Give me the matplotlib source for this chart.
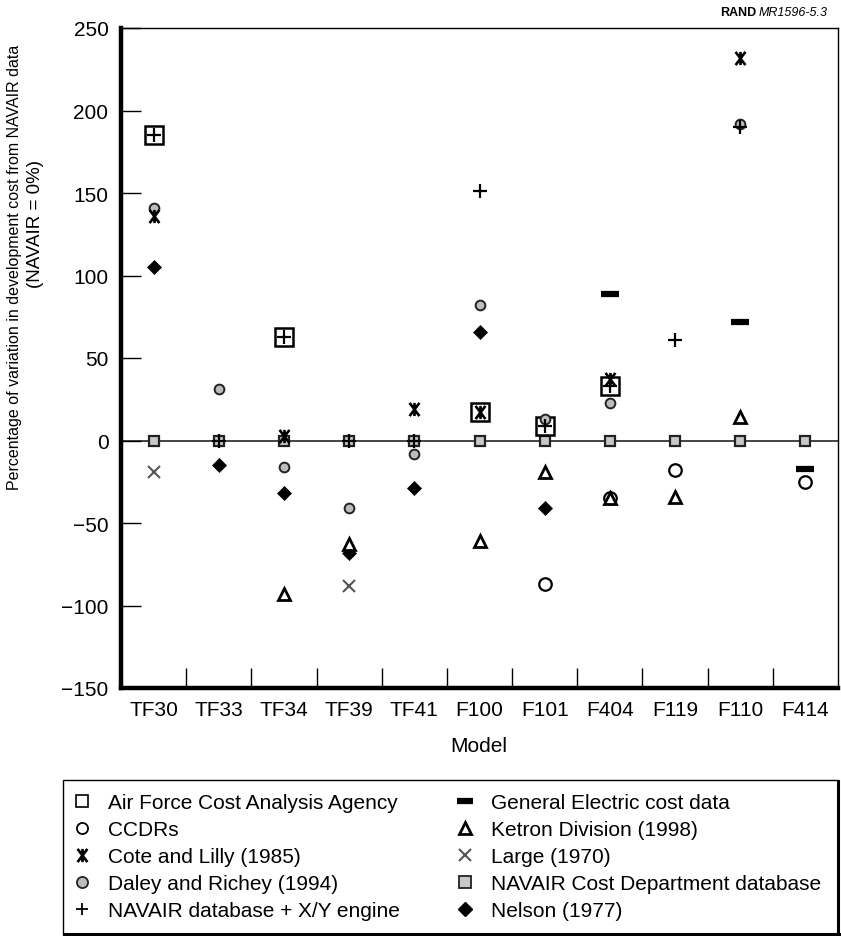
import numpy as np
import matplotlib
matplotlib.use("Agg")
import matplotlib.pyplot as plt
from matplotlib.lines import Line2D
from matplotlib.patches import Rectangle
from matplotlib.path import Path

plt.rcParams['font.family'] = ['Liberation Sans', 'DejaVu Sans']

nan = np.nan
models = ["TF30", "TF33", "TF34", "TF39", "TF41", "F100", "F101", "F404", "F119", "F110", "F414"]
afcaa      = [185, nan, 63, nan, nan, 17, 9, 33, nan, nan, nan]
ccdr       = [nan, nan, nan, nan, nan, nan, -87, -35, -18, nan, -25]
cote       = [136, nan, 3, nan, 19, 17, nan, 37, nan, 232, nan]
daley      = [141, 31, -16, -41, -8, 82, 13, 23, nan, 192, nan]
navair_xy  = [185, 0, 63, 0, 0, 151, 9, 33, 61, 190, nan]
ge         = [nan, nan, nan, nan, nan, nan, nan, 89, nan, 72, -17]
ketron     = [nan, nan, -93, -63, nan, -61, -19, -35, -34, 14, nan]
large      = [-19, nan, nan, -88, nan, nan, nan, nan, nan, nan, nan]
navair_cost = [0, 0, 0, 0, 0, 0, 0, 0, 0, 0, 0]
nelson     = [105, -15, -32, -68, -29, 66, -41, nan, nan, nan, nan]

labels = ["Air Force Cost Analysis Agency", "CCDRs", "Cote and Lilly (1985)",
          "Daley and Richey (1994)", "NAVAIR database + X/Y engine",
          "General Electric cost data", "Ketron Division (1998)", "Large (1970)",
          "NAVAIR Cost Department database", "Nelson (1977)"]

W, H = 841, 937
fig = plt.figure(figsize=(W / 100, H / 100), dpi=100)
ax = fig.add_axes([121 / W, 1 - 689 / H, (838 - 121) / W, (689 - 29) / H])

x = np.arange(len(models))
ax.axhline(0, color='#444444', lw=1.4, zorder=1)

# X with a vertical bar (Cote and Lilly symbol)
ASTER = Path([(-0.75, -1), (0.75, 1), (-0.75, 1), (0.75, -1), (0, -1), (0, 1)],
             [Path.MOVETO, Path.LINETO, Path.MOVETO, Path.LINETO, Path.MOVETO, Path.LINETO])

styles = {
    'navair_cost': dict(marker='s', ms=7.5, mfc='#c8c8c8', mec='#222222', mew=1.6),
    'afcaa': dict(marker='s', ms=12.5, mfc='white', mec='black', mew=1.8),
    'ccdr': dict(marker='o', ms=9, mfc='white', mec='black', mew=1.6),
    'daley': dict(marker='o', ms=7, mfc='#bdbdbd', mec='#222222', mew=1.4),
    'nelson': dict(marker='D', ms=7.5, mfc='black', mec='black', mew=0.5),
    'ketron': dict(marker='^', ms=8, mfc='white', mec='black', mew=2.0),
    'large': dict(marker='x', ms=9, mfc='none', mec='#555555', mew=1.5),
    'ge': dict(marker='_', ms=13, mec='black', mew=4.5),
    'cote': dict(marker=ASTER, ms=9.5, mfc='none', mec='black', mew=1.9),
    'navair_xy': dict(marker='+', ms=9.5, mec='black', mew=1.6),
}
series = [('navair_cost', navair_cost), ('afcaa', afcaa), ('ccdr', ccdr), ('daley', daley),
          ('nelson', nelson), ('ketron', ketron), ('large', large), ('ge', ge),
          ('cote', cote), ('navair_xy', navair_xy)]
for i, (k, vals) in enumerate(series):
    ax.plot(x, vals, linestyle='none', zorder=3 + i, **styles[k])

ax.set_xlim(-0.5, len(models) - 0.5)
ax.set_ylim(-150, 250)
ax.set_yticks(np.arange(-150, 251, 50))
ax.set_xticks(x)
ax.set_xticklabels(models)
ax.set_xticks(np.arange(0.5, len(models) - 1, 1), minor=True)
ax.tick_params(axis='x', which='major', length=0, pad=9, labelsize=15)
ax.tick_params(axis='x', which='minor', direction='in', length=14.5, width=1.0)
ax.tick_params(axis='y', which='major', direction='in', length=14.5, width=1.0, pad=9, labelsize=15)
for s in ['left', 'bottom']:
    ax.spines[s].set_linewidth(3.2)
for s in ['top', 'right']:
    ax.spines[s].set_linewidth(1.0)

fig.text(479 / W, 1 - 747 / H, "Model", ha='center', va='center', fontsize=15)
fig.text(15 / W, 1 - 267 / H, "Percentage of variation in development cost from NAVAIR data",
         rotation=90, ha='center', va='center', fontsize=11.5)
fig.text(36 / W, 1 - 224 / H, "(NAVAIR = 0%)", rotation=90, ha='center', va='center', fontsize=13.5)

renderer = fig.canvas.get_renderer()
t1 = fig.text(828 / W, 1 - 13 / H, "MR1596-5.3", ha='right', va='center', fontsize=9, style='italic')
bb = t1.get_window_extent(renderer=renderer)
fig.text((bb.x0 - 3) / W, 1 - 13 / H, "RAND", ha='right', va='center', fontsize=9, weight='bold')

# legend
leg_styles = {
    'afcaa': dict(marker='s', ms=9, mfc='white', mec='black', mew=1.2),
    'ccdr': dict(marker='o', ms=8, mfc='white', mec='black', mew=1.3),
    'cote': dict(marker=ASTER, ms=9.5, mfc='none', mec='black', mew=1.9),
    'daley': dict(marker='o', ms=8, mfc='#bdbdbd', mec='#222222', mew=1.3),
    'navair_xy': dict(marker='+', ms=9, mec='black', mew=1.3),
    'ge': dict(marker='_', ms=11, mec='black', mew=4.5),
    'ketron': dict(marker='^', ms=8, mfc='white', mec='black', mew=2.0),
    'large': dict(marker='x', ms=9, mec='#555555', mew=1.5),
    'navair_cost': dict(marker='s', ms=9, mfc='#c8c8c8', mec='#222222', mew=1.3),
    'nelson': dict(marker='D', ms=7.5, mfc='black', mec='black'),
}
order = ['afcaa', 'ccdr', 'cote', 'daley', 'navair_xy', 'ge', 'ketron', 'large', 'navair_cost', 'nelson']
handles = [Line2D([], [], linestyle='none', **leg_styles[k]) for k in order]
fig.legend(handles, labels, ncol=2, loc='upper left', bbox_to_anchor=(72 / W, 1 - 794 / H),
           frameon=False, fontsize=15, handlelength=1.0, handletextpad=0.75,
           columnspacing=2.6, labelspacing=0.39, borderpad=0, borderaxespad=0)

fig.add_artist(Rectangle((63 / W, 1 - 935 / H), (838 - 63) / W, (935 - 781) / H,
                         transform=fig.transFigure, fill=False, ec='black', lw=1.0))
fig.add_artist(Line2D([838 / W, 838 / W], [1 - 936 / H, 1 - 782 / H], transform=fig.transFigure,
                      color='black', lw=2.2))
fig.add_artist(Line2D([64 / W, 839 / W], [1 - 935 / H, 1 - 935 / H], transform=fig.transFigure,
                      color='black', lw=2.2))

fig.savefig("out.png", dpi=100)
